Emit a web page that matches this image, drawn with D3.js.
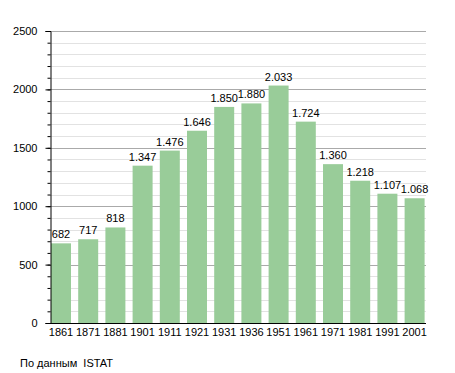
<!DOCTYPE html>
<html>
<head>
<meta charset="utf-8">
<script src="https://cdn.jsdelivr.net/npm/d3@7"></script>
<style>
  body { margin: 0; background: #fff; }
  svg text { font-family: "Liberation Sans", Arial, sans-serif; fill: #000; }
</style>
</head>
<body>
<svg id="chart" width="455" height="373"></svg>
<script>
var years = ["1861", "1871", "1881", "1901", "1911", "1921", "1931", "1936", "1951", "1961", "1971", "1981", "1991", "2001"];
var population = [682, 717, 818, 1347, 1476, 1646, 1850, 1880, 2033, 1724, 1360, 1218, 1107, 1068];
var majorTicks = [0, 500, 1000, 1500, 2000, 2500];

var svg = d3.select("#chart");
var plotLeft = 50, plotRight = 426, plotTop = 31, plotBottom = 323;

var x = d3.scaleBand()
    .domain(years)
    .range([51, 424.6])
    .paddingInner(0.265)
    .paddingOuter(0)
    .align(0);

var y = d3.scaleLinear()
    .domain([0, 2500])
    .range([plotBottom, plotTop]);

// minor grid
svg.append("g").selectAll("line")
    .data(d3.range(100, 2500, 100).filter(function(d) { return d % 500 != 0; }))
    .enter().append("line")
    .attr("x1", plotLeft).attr("x2", plotRight)
    .attr("y1", function(d) { return Math.round(y(d)) + 0.5; })
    .attr("y2", function(d) { return Math.round(y(d)) + 0.5; })
    .attr("stroke", "#e2e2e2");

// major grid
svg.append("g").selectAll("line")
    .data(majorTicks.slice(1))
    .enter().append("line")
    .attr("x1", plotLeft).attr("x2", plotRight)
    .attr("y1", function(d) { return Math.round(y(d)) + 0.5; })
    .attr("y2", function(d) { return Math.round(y(d)) + 0.5; })
    .attr("stroke", "#aaaaaa");

// bars
svg.append("g").selectAll("rect")
    .data(population)
    .enter().append("rect")
    .attr("x", function(d, i) { return x(years[i]); })
    .attr("width", x.bandwidth())
    .attr("y", function(d) { return y(d); })
    .attr("height", function(d) { return y(0) - y(d); })
    .attr("fill", "#99cc99");

// value labels
var fmt = function(d) { return d >= 1000 ? d3.format(",")(d).replace(",", ".") : String(d); };
svg.append("g").selectAll("text")
    .data(population)
    .enter().append("text")
    .attr("x", function(d, i) { return x(years[i]) + x.bandwidth() / 2; })
    .attr("y", function(d) { return y(d) - 5; })
    .attr("text-anchor", "middle")
    .attr("font-size", "11px")
    .text(fmt);

// y axis with minor ticks
var yAxis = d3.axisLeft(y).tickValues(majorTicks).tickFormat(d3.format("d")).tickSize(5).tickPadding(8);
var gy = svg.append("g")
    .attr("transform", "translate(" + (plotLeft + 0.5) + ",0)")
    .call(yAxis);
gy.selectAll("text").attr("font-size", "11px");
gy.selectAll("line, .domain").attr("stroke", "#000");

svg.append("g")
    .attr("transform", "translate(" + (plotLeft + 0.5) + ",0)")
    .call(d3.axisLeft(y).tickValues(d3.range(100, 2500, 100)).tickSize(3).tickFormat(""))
    .select(".domain").remove();

// x axis
var gx = svg.append("g")
    .attr("transform", "translate(0," + (plotBottom + 0.5) + ")")
    .call(d3.axisBottom(x).tickSize(0).tickPadding(5));
gx.select(".domain").attr("d", "M" + plotLeft + ",0H" + plotRight).attr("stroke", "#000");
gx.selectAll("text").attr("font-size", "11px");

svg.append("text")
    .attr("x", 20)
    .attr("y", 367)
    .attr("font-size", "11px")
    .attr("xml:space", "preserve")
    .text("По данным  ISTAT");
</script>
</body>
</html>
